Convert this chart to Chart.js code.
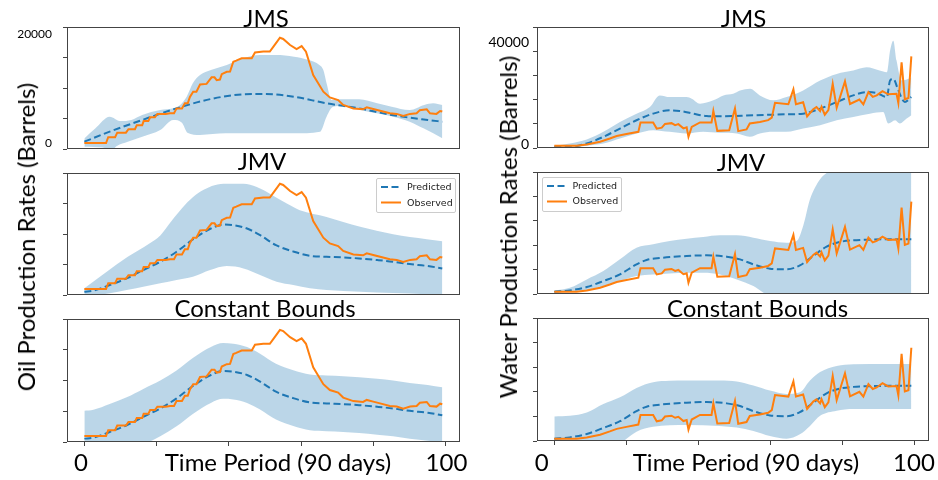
<!DOCTYPE html>
<html><head><meta charset="utf-8">
<script src="https://cdn.jsdelivr.net/npm/chart.js@4/dist/chart.umd.min.js"></script>
<style>
html,body{margin:0;padding:0;background:#fff;}
body{width:938px;height:480px;overflow:hidden;position:relative;}
.pane{position:absolute;}
.t{position:absolute;white-space:nowrap;color:#000;font-family:Lato,sans-serif;line-height:1;transform:translate(-50%,-50%);}
.rot{transform:translate(-50%,-50%) rotate(-90deg);}
.leg{position:absolute;background:rgba(255,255,255,0.85);border:1px solid #ccc;border-radius:2px;font-family:"DejaVu Sans",sans-serif;font-size:9.5px;color:#222;}
.leg div{position:absolute;white-space:nowrap;line-height:1;}
</style></head><body>
<script>
// ---------------- DATA ----------------
const xTickLabels = ['0', '100'];
const xAxisLabel = 'Time Period (90 days)';
const oilTickLabels = ['0', '20000'];
const waterTickLabels = ['0', '40000'];
const panelTitles = ['JMS', 'JMV', 'Constant Bounds'];
const seriesNames = ['Predicted', 'Observed'];

// Oil observed (same in all three oil panels)
const oilObsX = [0,6,6.6,8.5,9.1,11.5,12.2,14,14.5,16,16.4,17.7,18.2,19.5,20.2,22.5,23.7,24.8,25.5,27,27.8,28.6,29.2,30.1,31,32,33.8,35.2,36,36.6,37.5,38,39.4,40.3,41.2,42,43.5,46.3,47.2,49.5,51.3,52.3,54.1,55,56.9,58.7,60.1,61.3,63.3,66.1,67.9,70.2,71.6,74.4,77.1,78.1,79.9,81.8,84.5,86.4,88.2,90.1,91.9,92.8,94.7,95.6,97.4,98.4,99];
const oilObsY = [0,0,1000,1000,1800,1800,2400,2400,3100,3100,3800,3800,4450,4450,5030,5030,5150,5150,6000,6000,6900,6900,8000,8900,8900,10150,10250,11400,11400,10900,11000,11950,12350,12400,14100,14300,14700,14700,15700,15850,15850,16700,18250,18050,17000,16300,16800,15850,11800,8900,7900,7450,6600,6000,5850,6200,5900,5600,5150,5050,4700,5050,5150,5700,5850,5150,5050,5550,5450];

// Oil JMS
const oilJmsPredX = [0,7,16,25.5,35,44,50,58,67,76,85,95,99];
const oilJmsPredY = [230,1970,3990,6010,7630,8440,8500,8030,6880,6010,4860,3990,3700];
const oilJmsHiX = [0,3,7,10,13,16,21,24.5,26.5,28.3,30,32,35,39.4,44,48.6,53,58,62,65,66.1,67,68.4,70,76,81,85,90,94,96.5,99];
const oilJmsHiY = [800,2500,4550,3800,4000,4860,5720,6010,6600,8030,10350,11790,12660,13530,14680,15260,15260,14970,14390,13530,12660,10350,7460,7570,7570,6880,6300,5720,6590,6880,6590];
const oilJmsLoX = [0,5,7.5,9,12,16,21,24.6,27,28.5,32,39,48.6,57.8,65.2,67,68.8,71.6,76.3,80.8,85.4,90,93.8,96.5,99];
const oilJmsLoY = [-650,-800,-1200,-500,200,1100,2250,3990,3500,1800,1400,1680,1680,1680,1970,4570,6300,6420,5720,5140,4570,3700,2540,1680,810];

// Oil JMV / Constant Bounds mean prediction
const oilPredX = [0,2.5,7,11.7,16.3,21,25.5,30,35,38.4,41.2,45,48.6,53,58,62.4,67,71.6,76,81,85.4,90,95,99];
const oilPredY = [-460,-290,690,1840,3290,4730,6460,8590,10490,11180,11070,10490,9340,7610,6460,5760,5590,5480,5300,5020,4730,4320,3980,3570];
const oilJmvHiX = [0,3,6,9,12,15,18,21,24,27,30,33,36,39.4,44,47.7,51.3,56,59.6,67,71.6,76.3,85.4,94.7,99];
const oilJmvHiY = [120,1500,2900,4300,5600,6700,7900,9300,11700,14000,15900,17200,18000,18270,18270,17700,16540,14810,13660,12510,11640,10780,9510,8650,8300];
const oilJmvLoX = [0,7,11.7,16.3,21,25.5,30,34.8,39.4,44,48.6,53.2,57.8,62.4,67,76.3,85.4,94.7,99];
const oilJmvLoY = [-1300,-750,-170,400,980,1560,2130,3290,3980,3570,2420,1270,690,120,-170,-460,-700,-900,-1040];
const oilCbHiY = [4340,4510,5490,6640,8090,9530,11260,13390,15290,15980,15870,15290,14140,12410,11260,10560,10390,10280,10100,9820,9530,9120,8780,8370];
const oilCbLoY = [-5260,-5090,-4110,-2960,-1510,-70,1660,3790,5690,6380,6270,5690,4540,2810,1660,960,790,680,500,220,-70,-480,-820,-1230];

// Water observed (same in all three water panels)
const waterObsX = [0,6.2,9,12.7,15.4,17.3,20,23.3,23.9,27.4,28.4,29.8,30.7,32.5,33.5,34.4,35.8,36.7,37.2,38.1,40.4,43.6,44.1,45.2,48.5,50.1,51,53.3,54.2,57,59.3,60.3,61.2,64.9,66.3,67,69,70.1,71.8,72.7,73.7,74.1,75,76,77.2,78.3,80.6,82,84.6,85.7,87.1,88.3,89.4,91,92.6,94.9,95.4,96.3,97.2,98.2,99];
const waterObsY = [0,0,500,1600,2900,3900,4700,5600,9400,9400,6900,7300,8800,9100,8300,8700,7000,7400,3600,7600,9400,9400,14000,6000,6200,15000,5900,6600,9000,9600,10300,11300,17300,16700,22700,16700,17500,11800,14700,15600,14000,15700,12500,14400,24900,15300,25900,16800,18600,16700,21600,19700,20300,22000,20700,20900,17200,33600,18700,19200,36000];

// Water JMS
const waterJmsPredX = [0,4.3,9,13.6,18.2,22.8,27.4,32,34.8,38.5,42.2,45.9,55.2,64.4,69,73.7,78.3,82.9,86.6,89.4,92.2,93.1,94,95.4,97.2,99];
const waterJmsPredY = [-400,-400,930,3600,6930,10270,12930,14270,14000,12930,12000,11870,12270,12670,12930,14930,17600,20270,21600,21200,19600,26270,26930,22270,17600,19600];
const waterJmsHiX = [0,4.3,9,13.6,18.2,22.8,26.5,29.2,32,36.7,38.1,40.4,44.1,46.9,49.6,51.5,54.3,57,60.7,64.4,69,73.7,78.3,82.9,86.6,90.2,92.2,93.1,94,94.9,96.3,98.2,99];
const waterJmsHiY = [0,930,2530,5600,9600,12930,15600,20270,19600,19600,18930,16930,18270,20270,20930,22270,22930,20270,18270,19600,22270,26270,28930,30270,31600,30270,29600,38270,42270,34270,26270,26930,27600];
const waterJmsLoX = [0,4.3,9,13.6,18.2,22.8,27.4,32,36.7,41.3,45.9,50.6,54.2,57,60.7,64.4,69,73.7,78.3,82.9,87.5,91.2,92.6,94.5,95.8,97.7,99];
const waterJmsLoY = [-1070,-800,0,930,2930,4930,6270,5600,4930,5600,5200,4930,3600,4930,5600,5600,6930,8270,10270,11600,12930,13600,8930,10270,8930,10930,12270];

// Water JMV / Constant Bounds mean prediction
const waterPredX = [0,4.3,9,13.6,18.2,22.8,25.6,29.3,36.7,42.2,47.8,51.5,55.2,59.8,64.4,68.1,71.8,75.5,79.2,82.9,87.5,92.1,99];
const waterPredY = [0,530,1870,4270,6930,10930,12670,13470,14270,14530,14000,12930,10930,9200,8930,10530,14270,18000,19870,20530,20800,20930,20930];
const waterJmvHiX = [0,4.3,9,13.6,18.2,22.8,27.4,32,36.7,41.3,45.9,50.6,55.2,59.8,64.4,67.2,69,70.9,73.7,76.4,80,99];
const waterJmvHiY = [530,1600,4930,8270,12930,17600,18930,20270,21200,21870,22530,22530,21600,20270,19600,20270,26270,36930,44930,48500,55000,55000];
const waterJmvLoX = [0,4.3,9,13.6,18.2,22.8,27.4,32,36.7,41.3,45.9,50.6,55.2,58,62,70,80,99];
const waterJmvLoY = [-400,-130,670,2270,4270,6270,6930,7330,7600,7600,6930,4930,2270,-400,-3000,-5000,-6000,-6000];
const waterCbX = [0,4.3,9,13.6,18.2,22.8,27.4,32,36.7,45.9,50.6,55.2,59.8,64.4,68.1,70.9,73.7,78.3,82.9,92.1,99];
const waterCbHiY = [8800,9070,10400,13730,16400,20130,22400,22930,23070,23070,22670,21070,19070,17730,18400,23070,26400,28800,29470,29600,29600];
const waterCbLoY = [-8800,-8270,-6930,-4530,-1870,2800,4700,5330,5470,5070,4400,3070,1070,0,1730,5070,9070,11070,11730,11730,11730];

// ---------------- RENDER ----------------
const C_PRED = '#1f77b4', C_OBS = '#ff7f0e', C_BAND = 'rgba(31,119,180,0.3)';
const pts = (xs, ys) => xs.map((x, i) => ({x: x, y: ys[i]}));

const framePlugin = {
  id: 'frame',
  afterDraw(chart) {
    const a = chart.chartArea, ctx = chart.ctx;
    ctx.save();
    ctx.strokeStyle = '#444'; ctx.lineWidth = 1;
    ctx.strokeRect(Math.round(a.left) + 0.5, Math.round(a.top) + 0.5, Math.round(a.right - a.left) - 1, Math.round(a.bottom - a.top) - 1);
    ctx.restore();
  }
};
// y tick labels placed through the y scale
const tickLabelPlugin = {
  id: 'tickLabels',
  afterDraw(chart, args, o) {
    if (!o.labels || !o.labels.length) return;
    const ys = chart.scales.y, a = chart.chartArea, ctx = chart.ctx;
    ctx.save();
    ctx.fillStyle = '#000'; ctx.font = o.size + 'px Lato'; ctx.textAlign = 'right'; ctx.textBaseline = 'middle';
    o.labels.forEach((l, i) => ctx.fillText(l, a.left - 4 - o.pad, ys.getPixelForValue(Number(l)) + (o.dy[i] || 0)));
    ctx.restore();
  }
};

const oilRange = [-1040, 20120], waterRange = [-900, 47800];
const panels = [
  {L:67, T:27, W:393, H:122, yr:oilRange, step:5000, labs:oilTickLabels, dy:[0.5, 6], fs:12, pad:11, xt:false,
   lo:pts(oilJmsLoX, oilJmsLoY), hi:pts(oilJmsHiX, oilJmsHiY), pr:pts(oilJmsPredX, oilJmsPredY), ob:pts(oilObsX, oilObsY)},
  {L:67, T:173, W:393, H:122, yr:oilRange, step:5000, labs:[], dy:[], fs:12, pad:11, xt:false,
   lo:pts(oilJmvLoX, oilJmvLoY), hi:pts(oilJmvHiX, oilJmvHiY), pr:pts(oilPredX, oilPredY), ob:pts(oilObsX, oilObsY)},
  {L:67, T:319, W:393, H:123, yr:oilRange, step:5000, labs:[], dy:[], fs:12, pad:11, xt:true,
   lo:pts(oilPredX, oilCbLoY), hi:pts(oilPredX, oilCbHiY), pr:pts(oilPredX, oilPredY), ob:pts(oilObsX, oilObsY)},
  {L:537, T:27, W:392, H:121, yr:waterRange, step:10000, labs:waterTickLabels, dy:[-1, -4], fs:14, pad:4, xt:false,
   lo:pts(waterJmsLoX, waterJmsLoY), hi:pts(waterJmsHiX, waterJmsHiY), pr:pts(waterJmsPredX, waterJmsPredY), ob:pts(waterObsX, waterObsY)},
  {L:537, T:172, W:392, H:122, yr:waterRange, step:10000, labs:[], dy:[], fs:14, pad:4, xt:false,
   lo:pts(waterJmvLoX, waterJmvLoY), hi:pts(waterJmvHiX, waterJmvHiY), pr:pts(waterPredX, waterPredY), ob:pts(waterObsX, waterObsY)},
  {L:537, T:318, W:392, H:123, yr:waterRange, step:10000, labs:[], dy:[], fs:14, pad:4, xt:true,
   lo:pts(waterCbX, waterCbLoY), hi:pts(waterCbX, waterCbHiY), pr:pts(waterPredX, waterPredY), ob:pts(waterObsX, waterObsY)}
];

const PL = 60, PR = 8, PT = 6, PB = 8;
panels.forEach(p => {
  const div = document.createElement('div');
  div.className = 'pane';
  div.style.left = (p.L - PL) + 'px'; div.style.top = (p.T - PT) + 'px';
  const cw = p.W + PL + PR, ch = p.H + PT + PB;
  div.style.width = cw + 'px'; div.style.height = ch + 'px';
  const cv = document.createElement('canvas');
  cv.width = cw; cv.height = ch; cv.style.width = cw + 'px'; cv.style.height = ch + 'px';
  div.appendChild(cv); document.body.appendChild(div);
  new Chart(cv.getContext('2d'), {
    type: 'line',
    data: {datasets: [
      {data: p.lo, borderWidth: 0, borderColor: 'rgba(0,0,0,0)', pointRadius: 0, fill: false, cubicInterpolationMode: 'monotone', order: 3},
      {data: p.hi, borderWidth: 0, borderColor: 'rgba(0,0,0,0)', pointRadius: 0, fill: '-1', backgroundColor: C_BAND, cubicInterpolationMode: 'monotone', order: 2},
      {label: seriesNames[0], data: p.pr, borderColor: C_PRED, borderWidth: 2, borderDash: [7, 3.5], pointRadius: 0, fill: false, cubicInterpolationMode: 'monotone', order: 1},
      {label: seriesNames[1], data: p.ob, borderColor: C_OBS, borderWidth: 2, pointRadius: 0, fill: false, tension: 0, order: 0}
    ]},
    options: {
      responsive: false, animation: false, devicePixelRatio: 1,
      layout: {padding: {left: 0, top: PT, right: PR, bottom: 0}},
      plugins: {legend: {display: false}, tooltip: {enabled: false}, title: {display: false},
                tickLabels: {labels: p.labs, dy: p.dy, size: p.fs, pad: p.pad}},
      scales: {
        x: {type: 'linear', min: -4.8, max: 103.9,
            grid: {display: p.xt, drawOnChartArea: false, drawTicks: true, tickLength: 4, color: '#444'},
            border: {display: false},
            ticks: {display: false, stepSize: 20, includeBounds: false},
            afterFit(s) { s.height = PB; s.paddingLeft = 0; s.paddingRight = 0; }},
        y: {type: 'linear', min: p.yr[0], max: p.yr[1],
            grid: {drawOnChartArea: false, drawTicks: true, tickLength: 4, color: '#444'},
            border: {display: false},
            ticks: {stepSize: p.step, includeBounds: false, callback: () => ''},
            afterFit(s) { s.width = PL; s.paddingTop = 0; s.paddingBottom = 0; }}
      }
    },
    plugins: [framePlugin, tickLabelPlugin]
  });
});

// ---------------- TEXT ----------------
function txt(s, x, y, size, rot) {
  const d = document.createElement('div');
  d.className = 't' + (rot ? ' rot' : '');
  d.textContent = s; d.style.left = x + 'px'; d.style.top = y + 'px'; d.style.fontSize = size + 'px';
  document.body.appendChild(d);
}
const FS = 24;
txt(panelTitles[0], 266, 17.5, FS); txt(panelTitles[1], 262, 160.5, FS); txt(panelTitles[2], 265, 308, FS);
txt(panelTitles[0], 743.5, 18.3, FS); txt(panelTitles[1], 741, 161.5, FS); txt(panelTitles[2], 757.5, 307.5, FS);
txt('Oil Production Rates (Barrels)', 26, 236.5, FS, true);
txt('Water Production Rates (Barrels)', 507.5, 227, FS, true);
txt(xTickLabels[0], 81, 461.5, FS); txt(xAxisLabel, 278, 461.5, FS); txt(xTickLabels[1], 446.5, 461.5, FS);
txt(xTickLabels[0], 541.7, 461.5, FS); txt(xAxisLabel, 746, 461.5, FS); txt(xTickLabels[1], 914, 461.5, FS);

function legend(x, y, w, h) {
  const b = document.createElement('div');
  b.className = 'leg';
  b.style.left = x + 'px'; b.style.top = y + 'px'; b.style.width = w + 'px'; b.style.height = h + 'px';
  b.innerHTML =
    '<svg style="position:absolute;left:3px;top:0" width="22" height="' + h + '">' +
    '<line x1="1" y1="8" x2="21" y2="8" stroke="' + C_PRED + '" stroke-width="2" stroke-dasharray="7,3.5"/>' +
    '<line x1="1" y1="23.5" x2="21" y2="23.5" stroke="' + C_OBS + '" stroke-width="2"/></svg>' +
    '<div style="left:30px;top:3px">' + seriesNames[0] + '</div>' +
    '<div style="left:30px;top:18.5px">' + seriesNames[1] + '</div>';
  document.body.appendChild(b);
}
legend(376, 178, 78, 33);
legend(541.5, 176.5, 78, 33);
</script>
</body></html>
